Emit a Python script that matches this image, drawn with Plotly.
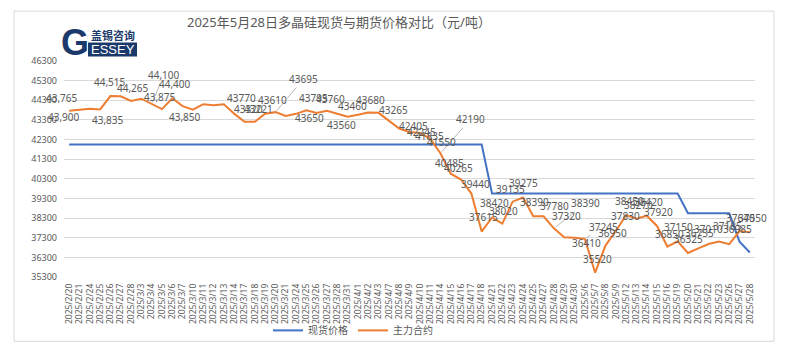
import plotly.graph_objects as go

dates = ["2025/2/20","2025/2/21","2025/2/24","2025/2/25","2025/2/26","2025/2/27","2025/2/28",
         "2025/3/3","2025/3/4","2025/3/5","2025/3/6","2025/3/7","2025/3/10","2025/3/11","2025/3/12",
         "2025/3/13","2025/3/14","2025/3/17","2025/3/18","2025/3/19","2025/3/20","2025/3/21",
         "2025/3/24","2025/3/25","2025/3/26","2025/3/27","2025/3/28","2025/3/31",
         "2025/4/1","2025/4/2","2025/4/3","2025/4/7","2025/4/8","2025/4/9","2025/4/10","2025/4/11",
         "2025/4/14","2025/4/15","2025/4/16","2025/4/17","2025/4/18","2025/4/21","2025/4/22",
         "2025/4/23","2025/4/24","2025/4/25","2025/4/27","2025/4/28","2025/4/29","2025/4/30",
         "2025/5/6","2025/5/7","2025/5/8","2025/5/9","2025/5/12","2025/5/13","2025/5/14",
         "2025/5/15","2025/5/16","2025/5/19","2025/5/20","2025/5/21","2025/5/22","2025/5/23",
         "2025/5/26","2025/5/27","2025/5/28"]

spot = [42050]*41 + [39550]*19 + [38550]*5 + [37100, 36550]

futures = [43765, 43800, 43870, 43835, 44515, 44500, 44265,
           44380, 44100, 43850, 44400, 44000, 43820, 44100, 44050,
           44100, 43620, 43200, 43200, 43610, 43695, 43500,
           43610, 43795, 43650, 43760, 43610, 43460,
           43560, 43680, 43660, 43265, 42860, 42680, 42640, 42350,
           41600, 40560, 40265, 39550, 37615, 38330, 38020,
           39135, 39350, 38390, 38390, 37780, 37320, 37300,
           37245, 35520, 36900, 37640, 38450, 38270, 38420,
           37900, 36850, 37120, 36525, 36755, 36980, 37110,
           36970, 37640, 37580]

# data labels: point index and text
label_idx = [0, 0, 3, 4, 5, 8, 10, 9, 11, 16, 17, 18, 19, 20, 23, 25, 25, 26, 27, 29, 31,
             33, 34, 35, 36, 36, 37, 38, 39, 40, 41, 42, 43, 44, 45, 46, 47, 48, 50, 50,
             52, 51, 53, 54, 55, 56, 57, 58, 59, 60, 61, 62, 63, 64, 65, 66]
label_text = ["43,765", "43,900", "43,835", "44,515", "44,265", "44,100", "44,400", "43,875",
              "43,850", "43770", "43320", "43221", "43610", "43695", "43795", "43650", "43760",
              "43560", "43460", "43680", "43265", "42405", "42245", "41835", "42190", "41550",
              "40485", "40265", "39440", "37615", "38420", "38020", "39135", "39275", "38390",
              "37780", "38390", "37320", "36410", "37245", "36950", "35520", "37830", "38450",
              "38270", "38420", "37920", "36850", "37150", "36325", "36755", "37010", "37185",
              "36985", "37640", "37550"]

# label placement (pixel offsets from the point) -- style only
label_dx = [-7, -5, 8, 0, 12, 12, 3, -2, 2, 7, 4, 4, 7, 28, 7, -17, 4, 4, 5, 2, 5,
            4, 2, -1, 30, 1, -1, -3, 4, 2, 2, 1, -2, 1, 1, 11, 32, 2, 2, 19,
            7, 2, 10, 3, 2, 2, 1, 2, 1, 1, 1, 0, 9, 8, 1, 3]
label_dy = [-13, 6, 11, -14, -8, -29, -14, -12, 11, -16, -13, -13, -14, -33, -12, 7, -12, 11, -11, -12, -11,
            -6, -1, -3, -34, -11, -11, -12, -10, -15, -15, -13, -13, -14, -14, -10, -25, -21, 4, -12,
            -13, -14, -15, -14, -14, -14, -14, -13, -14, -14, -15, -15, -15, -15, -13, -14]
label_leader = [5, 13, 24, 36, 39]  # positions in the label list drawn with leader lines

# page body has an 8px default margin -> figure coordinates = screen coordinates - 8
OFF = 8
W, H = 797, 355
L, R, T, B = 64 - OFF, 797 - (755 - OFF), 61 - OFF, 355 - (277.5 - OFF)
PW, PH = W - L - R, H - T - B

def px(x):  # screen pixel -> paper
    return (x - OFF - L) / PW

def py(y):
    return (H - B - (y - OFF)) / PH

GREY = "#595959"
FONT = "Noto Sans, Noto Sans CJK SC, sans-serif"
NAVY = "#1B3A6B"

fig = go.Figure()
fig.add_trace(go.Scatter(x=dates, y=spot, mode="lines", name="现货价格",
                         line=dict(color="#4472C4", width=2)))
fig.add_trace(go.Scatter(x=dates, y=futures, mode="lines", name="主力合约",
                         line=dict(color="#ED7D31", width=2)))

annotations = []
for k, (i, txt) in enumerate(zip(label_idx, label_text)):
    if k in label_leader:
        annotations.append(dict(x=dates[i], y=futures[i], xref="x", yref="y", text=txt,
                                showarrow=True, arrowhead=0, arrowwidth=0.8, arrowcolor="#a6a6a6",
                                ax=label_dx[k], ay=label_dy[k], standoff=2,
                                font=dict(size=10, color=GREY, family=FONT)))
    else:
        annotations.append(dict(x=dates[i], y=futures[i], xref="x", yref="y", text=txt,
                                showarrow=False, xshift=label_dx[k], yshift=-label_dy[k],
                                font=dict(size=10, color=GREY, family=FONT)))

# title
annotations.append(dict(x=px(185), y=py(22), xref="paper", yref="paper",
                        text="2025年5月28日多晶硅现货与期货价格对比（元/吨）", showarrow=False,
                        font=dict(size=13, color=GREY, family=FONT), xanchor="left", yanchor="middle"))
# logo
annotations.append(dict(x=px(75), y=py(42), xref="paper", yref="paper", text="<b>G</b>",
                        showarrow=False, font=dict(size=36, color=NAVY, family="Liberation Sans"),
                        xanchor="center", yanchor="middle"))
annotations.append(dict(x=px(112.5), y=py(35), xref="paper", yref="paper", text="<b>盖锡咨询</b>",
                        showarrow=False, font=dict(size=11, color=NAVY, family="Noto Sans CJK SC"),
                        xanchor="center", yanchor="middle"))
annotations.append(dict(x=px(112.5), y=py(49.5), xref="paper", yref="paper", text="ESSEY",
                        showarrow=False, font=dict(size=13, color="white", family="Liberation Sans"),
                        xanchor="center", yanchor="middle"))

shapes = [
    dict(type="rect", xref="paper", yref="paper", x0=px(14), x1=px(774), y0=py(342), y1=py(11),
         line=dict(color="#d9d9d9", width=1), layer="below"),
    dict(type="rect", xref="paper", yref="paper", x0=px(88), x1=px(137), y0=py(56.5), y1=py(42.5),
         line=dict(width=0), fillcolor=NAVY, layer="above"),
]

fig.update_layout(
    width=W, height=H, autosize=False,
    margin=dict(l=L, r=R, t=T, b=B, pad=0, autoexpand=False),
    paper_bgcolor="white", plot_bgcolor="white",
    font=dict(family=FONT, color=GREY),
    showlegend=True,
    legend=dict(orientation="h", x=px(268), y=py(331), xanchor="left", yanchor="middle",
                font=dict(size=10, color=GREY), bgcolor="rgba(0,0,0,0)",
                itemwidth=30, tracegroupgap=0),
    xaxis=dict(type="category", range=[-0.5, len(dates) - 0.5], tickangle=-90,
               tickmode="array", tickvals=dates, ticktext=dates,
               tickfont=dict(size=8.5, color=GREY), showgrid=False, showline=False,
               ticks="", zeroline=False, automargin=False, ticklabelstandoff=4),
    yaxis=dict(range=[35300, 46300], tick0=35300, dtick=1000, tickfont=dict(size=9, color=GREY),
               showgrid=True, gridcolor="#d9d9d9", gridwidth=1, zeroline=False, showline=False,
               ticks="", tickformat="d", ticklabelstandoff=6, automargin=False),
    annotations=annotations,
    shapes=shapes,
)

fig.write_html("out.html")
